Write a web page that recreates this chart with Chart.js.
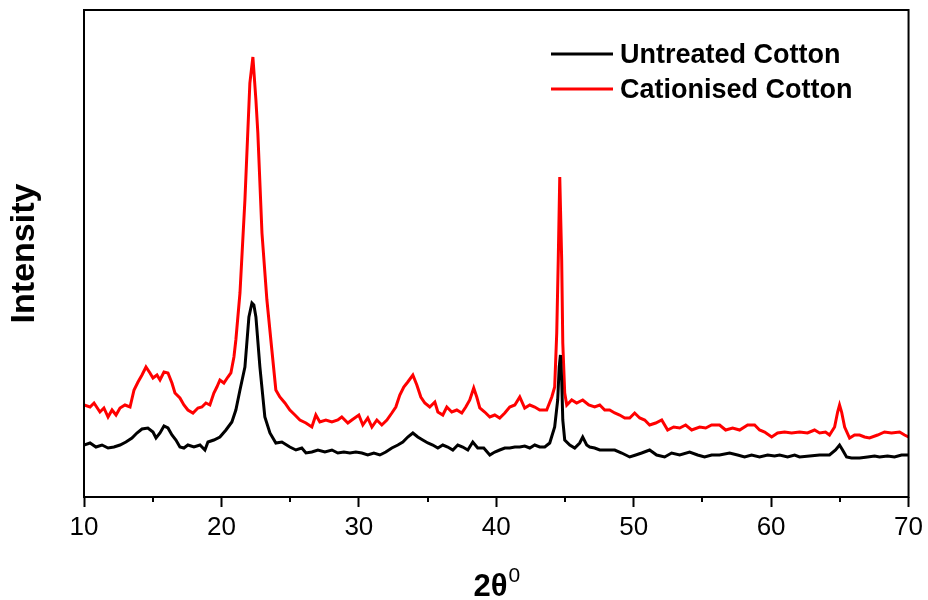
<!DOCTYPE html>
<html>
<head>
<meta charset="utf-8">
<script src="https://cdn.jsdelivr.net/npm/chart.js@4/dist/chart.umd.min.js"></script>
<style>
  html, body { margin: 0; padding: 0; background: #fff; }
  #wrap { width: 928px; height: 600px; }
</style>
</head>
<body>
<div id="wrap"><canvas id="c" width="928" height="600"></canvas></div>
<script>
// ---- Data (2θ in degrees, intensity in arbitrary units) ----
const seriesLabels = ['Untreated Cotton', 'Cationised Cotton'];
const seriesColors = ['#000000', '#ff0000'];
const xTickValues = [10, 20, 30, 40, 50, 60, 70];

const untreatedAngle = [
  10.00, 10.44, 10.87, 11.31, 11.75, 12.18, 12.62, 13.05, 13.49, 13.85,
  14.22, 14.65, 15.02, 15.24, 15.53, 15.82, 16.11, 16.40, 16.69, 16.98,
  17.27, 17.56, 18.00, 18.44, 18.80, 19.02, 19.45, 19.89, 20.33, 20.76,
  21.05, 21.35, 21.71, 22.00, 22.22, 22.36, 22.51, 22.80, 23.16, 23.53,
  23.96, 24.40, 24.98, 25.42, 25.85, 26.15, 26.58, 27.02, 27.53, 28.04,
  28.47, 28.91, 29.35, 29.78, 30.22, 30.65, 31.09, 31.53, 31.96, 32.40,
  32.84, 33.20, 33.56, 33.93, 34.29, 34.65, 35.02, 35.38, 35.75, 36.11,
  36.47, 36.84, 37.20, 37.56, 37.93, 38.29, 38.65, 39.09, 39.53, 39.89,
  40.25, 40.62, 40.98, 41.35, 41.71, 42.07, 42.44, 42.80, 43.16, 43.53,
  43.89, 44.25, 44.47, 44.58, 44.67, 44.76, 44.84, 44.98, 45.35, 45.71,
  46.07, 46.29, 46.58, 46.80, 47.16, 47.53, 48.11, 48.62, 49.13, 49.71,
  50.15, 50.58, 51.16, 51.67, 52.25, 52.76, 53.35, 54.07, 54.65, 55.16,
  55.67, 56.25, 56.98, 57.56, 58.07, 58.58, 59.16, 59.75, 60.25, 60.62,
  61.20, 61.71, 62.07, 62.80, 63.53, 64.25, 64.69, 64.98, 65.20, 65.49,
  65.85, 66.44, 67.02, 67.53, 67.89, 68.47, 68.98, 69.49, 70.00
];
const untreatedIntensity = [
  52, 54, 50, 52, 49, 50, 52, 55, 59, 64,
  68, 69, 65, 59, 64, 71, 69, 62, 57, 50,
  49, 52, 50, 52, 47, 55, 57, 60, 67, 75,
  87, 107, 130, 180, 194, 192, 180, 130, 80, 64,
  54, 55, 50, 47, 49, 44, 45, 47, 45, 47,
  44, 45, 44, 45, 44, 42, 44, 42, 45, 49,
  52, 55, 60, 64, 60, 57, 54, 52, 49, 52,
  50, 47, 52, 50, 47, 55, 49, 49, 42, 45,
  47, 49, 49, 50, 50, 51, 49, 52, 50, 50,
  54, 70, 97, 130, 142, 117, 77, 57, 52, 49,
  54, 60, 52, 50, 49, 47, 47, 47, 44, 40,
  42, 44, 47, 42, 40, 44, 42, 45, 42, 40,
  42, 42, 44, 42, 40, 42, 40, 42, 41, 42,
  40, 42, 40, 41, 42, 42, 47, 52, 47, 40,
  39, 39, 40, 41, 40, 41, 40, 42, 42
];

const cationisedAngle = [
  10.00, 10.44, 10.73, 11.16, 11.45, 11.75, 12.04, 12.33, 12.62, 12.98,
  13.35, 13.64, 13.93, 14.22, 14.51, 14.80, 15.02, 15.31, 15.53, 15.82,
  16.11, 16.40, 16.62, 16.98, 17.27, 17.56, 17.93, 18.29, 18.58, 18.87,
  19.16, 19.45, 19.67, 19.89, 20.18, 20.47, 20.69, 20.91, 21.05, 21.35,
  21.71, 22.07, 22.29, 22.51, 22.65, 22.95, 23.31, 23.67, 23.96, 24.25,
  24.62, 24.98, 25.35, 25.71, 26.15, 26.58, 26.87, 27.16, 27.60, 28.04,
  28.47, 28.76, 29.20, 29.49, 30.00, 30.29, 30.65, 30.95, 31.31, 31.67,
  32.04, 32.40, 32.69, 32.98, 33.27, 33.56, 33.93, 34.22, 34.51, 34.80,
  35.16, 35.53, 35.75, 36.11, 36.40, 36.76, 37.13, 37.49, 37.78, 38.07,
  38.36, 38.58, 38.80, 39.16, 39.53, 39.89, 40.25, 40.62, 40.98, 41.35,
  41.71, 42.07, 42.44, 42.80, 43.16, 43.67, 44.04, 44.25, 44.40, 44.51,
  44.62, 44.76, 44.84, 44.98, 45.13, 45.49, 45.85, 46.29, 46.73, 47.16,
  47.53, 47.89, 48.25, 48.62, 48.98, 49.35, 49.71, 50.07, 50.44, 50.80,
  51.16, 51.60, 52.04, 52.47, 52.91, 53.35, 53.78, 54.22, 54.80, 55.24,
  55.67, 56.25, 56.69, 57.20, 57.71, 58.29, 58.80, 59.16, 59.53, 60.04,
  60.47, 60.98, 61.49, 62.07, 62.65, 63.16, 63.53, 63.96, 64.25, 64.62,
  64.84, 64.98, 65.13, 65.35, 65.71, 66.07, 66.44, 66.80, 67.16, 67.75,
  68.25, 68.76, 69.35, 69.71, 70.00
];
const cationisedIntensity = [
  92, 90, 94, 85, 89, 80, 87, 82, 89, 92,
  90, 107, 115, 122, 130, 124, 119, 122, 117, 125,
  124, 114, 104, 99, 92, 87, 84, 89, 90, 94,
  92, 104, 110, 117, 114, 120, 124, 140, 157, 204,
  297, 414, 440, 397, 364, 264, 197, 147, 107, 100,
  94, 87, 82, 77, 74, 70, 82, 75, 77, 75,
  77, 80, 74, 77, 82, 72, 79, 70, 77, 72,
  77, 84, 90, 102, 110, 115, 122, 112, 100, 94,
  90, 95, 85, 82, 90, 85, 87, 84, 90, 97,
  109, 100, 89, 85, 80, 82, 79, 84, 90, 92,
  100, 89, 92, 90, 87, 87, 100, 110, 164, 237,
  320, 237, 154, 104, 92, 97, 94, 97, 92, 90,
  92, 87, 87, 84, 82, 79, 79, 84, 79, 77,
  72, 74, 77, 67, 70, 69, 72, 67, 70, 69,
  72, 72, 67, 69, 67, 72, 72, 67, 65, 60,
  64, 65, 64, 65, 64, 67, 64, 65, 62, 70,
  85, 92, 85, 70, 59, 62, 62, 60, 59, 62,
  65, 64, 65, 62, 60
];

const yRange = [0, 487];

function toPoints(xs, ys) { return xs.map((x, i) => ({ x: x, y: ys[i] })); }

const FONT = "'Liberation Sans', Arial, Helvetica, sans-serif";

// frame, minor ticks, legend and x-axis title
const decorPlugin = {
  id: 'decor',
  afterDraw(chart) {
    const ctx = chart.ctx;
    const a = chart.chartArea;
    const xs = chart.scales.x;
    ctx.save();
    // frame
    ctx.strokeStyle = '#000';
    ctx.lineWidth = 2;
    ctx.strokeRect(a.left, a.top, a.right - a.left, a.bottom - a.top);
    // minor ticks
    ctx.lineWidth = 2;
    for (let v = 15; v < 70; v += 10) {
      const px = Math.round(xs.getPixelForValue(v));
      ctx.beginPath();
      ctx.moveTo(px, a.bottom);
      ctx.lineTo(px, a.bottom + 5);
      ctx.stroke();
    }
    // legend
    const ds = chart.data.datasets;
    const legendRows = [{ lineY: 54, textY: 63 }, { lineY: 89, textY: 98 }];
    ctx.font = "bold 27px " + FONT;
    ctx.textBaseline = 'alphabetic';
    ctx.textAlign = 'left';
    ds.forEach((d, i) => {
      const r = legendRows[i];
      ctx.strokeStyle = d.borderColor;
      ctx.lineWidth = 3;
      ctx.beginPath();
      ctx.moveTo(551, r.lineY);
      ctx.lineTo(613, r.lineY);
      ctx.stroke();
      ctx.fillStyle = '#000';
      ctx.fillText(d.label, 620, r.textY);
    });
    // x-axis title: 2θ with superscript 0
    ctx.fillStyle = '#000';
    ctx.font = "bold 31px " + FONT;
    const main = '2\u03B8';
    const w = ctx.measureText(main).width;
    ctx.font = "21px " + FONT;
    const ws = ctx.measureText('0').width;
    const cx = (a.left + a.right) / 2;
    const x0 = cx - (w + ws) / 2;
    ctx.font = "bold 31px " + FONT;
    ctx.fillText(main, x0, 596);
    ctx.font = "21px " + FONT;
    ctx.fillText('0', x0 + w + 1, 582);
    ctx.restore();
  }
};

new Chart(document.getElementById('c'), {
  type: 'line',
  data: {
    datasets: [
      {
        label: seriesLabels[0],
        data: toPoints(untreatedAngle, untreatedIntensity),
        borderColor: seriesColors[0],
        backgroundColor: seriesColors[0],
        borderWidth: 3,
        pointRadius: 0,
        tension: 0,
        fill: false
      },
      {
        label: seriesLabels[1],
        data: toPoints(cationisedAngle, cationisedIntensity),
        borderColor: seriesColors[1],
        backgroundColor: seriesColors[1],
        borderWidth: 3,
        pointRadius: 0,
        tension: 0,
        fill: false
      }
    ]
  },
  options: {
    responsive: false,
    devicePixelRatio: 1,
    animation: false,
    layout: { padding: { top: 10, right: 19, left: 0, bottom: 0 } },
    plugins: {
      legend: { display: false },
      tooltip: { enabled: false }
    },
    scales: {
      x: {
        type: 'linear',
        min: xTickValues[0],
        max: xTickValues[xTickValues.length - 1],
        afterBuildTicks(scale) { scale.ticks = xTickValues.map(v => ({ value: v })); },
        ticks: {
          color: '#000',
          font: { family: FONT, size: 26 },
          padding: 5,
          maxRotation: 0
        },
        grid: {
          display: true,
          drawOnChartArea: false,
          drawTicks: true,
          tickLength: 10,
          tickWidth: 2,
          tickColor: '#000'
        },
        border: { display: false },
        afterFit(scale) { scale.height = 103; }
      },
      y: {
        type: 'linear',
        min: yRange[0],
        max: yRange[1],
        ticks: { display: false },
        grid: { display: false, drawTicks: false },
        border: { display: false },
        title: {
          display: true,
          text: 'Intensity',
          color: '#000',
          font: { family: FONT, size: 34, weight: 'bold' },
          padding: { top: 4, bottom: 0 }
        },
        afterFit(scale) { scale.width = 84; }
      }
    }
  },
  plugins: [decorPlugin]
});
</script>
</body>
</html>
